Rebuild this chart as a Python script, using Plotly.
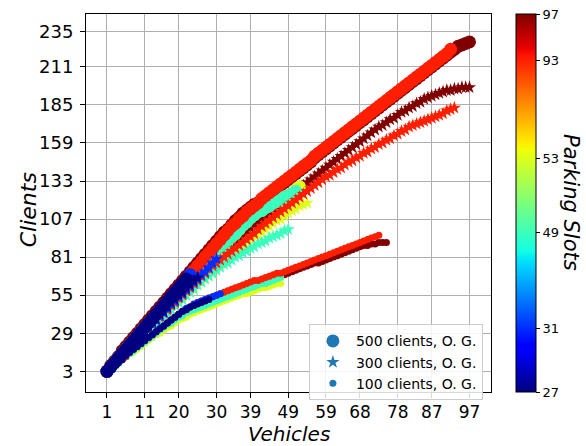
import numpy as np
import plotly.graph_objects as go

# Vehicle counts (x grid shared by every run)
VEHICLES = list(range(1, 98))

# Parking-slot levels and where each sits on the colour bar
SLOT_LEVELS = [27, 31, 49, 53, 93, 97]
SLOT_POSITIONS = [0.0, 0.169, 0.421, 0.619, 0.878, 1.0]

X_TICKS = [1, 11, 20, 30, 39, 49, 59, 68, 78, 87, 97]
Y_TICKS = [3, 29, 55, 81, 107, 133, 159, 185, 211, 235]

# ---- 500 clients, O. G. (served clients per vehicle count) ----
c500_s97 = [3, 7, 10, 13, 17, 20, 23, 26, 29, 32,
            35, 38, 41, 44, 47, 50, 53, 56, 59, 62,
            65, 68, 71, 74, 77, 80, 83, 86, 89, 92,
            95, 98, 100, 103, 106, 108, 111, 113, 115, 117,
            118, 120, 122, 124, 126, 128, 130, 132, 134, 136,
            138, 140, 142, 144, 146, 149, 151, 153, 155, 157,
            159, 161, 163, 165, 167, 169, 171, 173, 175, 177,
            179, 181, 183, 185, 187, 189, 191, 193, 195, 197,
            199, 201, 203, 205, 207, 209, 211, 213, 215, 217,
            219, 221, 223, 225, 226, 227, 228]
c500_s93 = [3, 6, 9, 12, 15, 18, 21, 24, 27, 30,
            33, 36, 39, 42, 45, 48, 51, 54, 57, 60,
            63, 66, 69, 72, 75, 78, 81, 84, 87, 90,
            93, 96, 99, 102, 104, 107, 109, 112, 114, 116,
            118, 121, 123, 125, 127, 129, 131, 133, 135, 137,
            139, 141, 143, 145, 147, 150, 152, 154, 156, 158,
            160, 162, 164, 166, 168, 170, 172, 174, 176, 178,
            180, 182, 184, 186, 188, 190, 192, 194, 196, 198,
            200, 202, 204, 206, 208, 210, 212, 214, 216, 218,
            220, 223]
c500_s53 = [3, 6, 9, 12, 15, 18, 21, 24, 27, 30,
            33, 35, 38, 41, 44, 46, 49, 52, 54, 57,
            60, 62, 65, 68, 70, 73, 76, 78, 81, 84,
            87, 89, 92, 95, 97, 100, 103, 105, 108, 110,
            112, 113, 115, 116, 118, 119, 120, 122, 123, 124,
            127, 129]
c500_s49 = [3, 6, 9, 12, 15, 18, 21, 24, 27, 30,
            33, 35, 38, 41, 44, 46, 49, 52, 54, 57,
            60, 62, 65, 68, 70, 73, 76, 78, 81, 84,
            87, 89, 92, 95, 97, 100, 103, 105, 108, 110,
            112, 113, 115, 116, 118, 119, 120, 122, 123, 124,
            126]
c500_s31 = [3, 6, 9, 12, 15, 18, 21, 24, 27, 30,
            33, 36, 39, 42, 45, 48, 51, 54, 57, 60,
            63, 66, 69]
c500_s27 = [3, 6, 9, 12, 15, 18, 21, 24, 27, 30,
            33, 36, 39, 42, 45, 48, 51, 54, 57, 60,
            63, 66]

# ---- 300 clients, O. G. ----
c300_s97 = [3, 6, 9, 12, 15, 17, 20, 23, 26, 28,
            31, 33, 36, 38, 41, 43, 46, 49, 51, 54,
            56, 59, 61, 64, 66, 69, 71, 74, 76, 79,
            81, 84, 86, 89, 91, 94, 96, 99, 101, 103,
            105, 107, 109, 112, 114, 116, 119, 121, 123, 125,
            127, 129, 130, 132, 134, 136, 138, 140, 142, 144,
            146, 148, 150, 152, 154, 156, 158, 160, 162, 164,
            166, 168, 170, 171, 173, 175, 176, 178, 180, 181,
            183, 184, 186, 187, 189, 190, 191, 192, 193, 194,
            195, 195, 196, 196, 197, 197, 197]
c300_s93 = [3, 6, 9, 12, 14, 17, 20, 23, 25, 28,
            30, 33, 35, 38, 40, 43, 45, 48, 50, 53,
            55, 58, 60, 63, 65, 68, 70, 73, 75, 77,
            79, 81, 83, 85, 87, 89, 91, 93, 95, 97,
            100, 102, 104, 106, 108, 110, 112, 114, 116, 118,
            120, 122, 124, 126, 128, 130, 132, 134, 136, 137,
            139, 141, 142, 144, 146, 147, 149, 150, 152, 153,
            155, 156, 158, 159, 161, 162, 164, 165, 167, 168,
            170, 171, 172, 173, 174, 175, 176, 177, 178, 179,
            181, 182, 183]
c300_s53 = [3, 6, 8, 11, 14, 16, 19, 21, 24, 26,
            29, 31, 34, 36, 39, 41, 43, 46, 48, 51,
            53, 55, 58, 60, 62, 65, 67, 69, 71, 74,
            76, 78, 80, 83, 85, 87, 89, 91, 93, 95,
            96, 98, 100, 102, 104, 106, 107, 109, 111, 113,
            114, 116, 117, 118]
c300_s49 = [3, 5, 8, 10, 13, 15, 18, 20, 23, 25,
            28, 30, 33, 35, 38, 40, 43, 45, 48, 50,
            52, 55, 57, 59, 62, 64, 66, 68, 70, 72,
            74, 76, 77, 79, 81, 82, 84, 85, 87, 88,
            90, 91, 92, 94, 95, 96, 97, 99, 100]
c300_s31 = [3, 6, 9, 12, 15, 17, 20, 23, 26, 28,
            31, 33, 36, 38, 41, 43, 46, 49, 51, 54,
            56, 59, 61, 64, 66, 69, 71, 74, 77, 80]
c300_s27 = [3, 6, 9, 12, 15, 18, 20, 23, 26, 29,
            31, 34, 37, 39, 42, 44, 47, 50, 52, 55,
            57, 60, 62, 65, 67]

# ---- 100 clients, O. G. ----
c100_s97 = [3, 5, 7, 9, 11, 13, 16, 18, 20, 22,
            24, 26, 28, 30, 32, 34, 36, 38, 40, 42,
            43, 45, 46, 48, 49, 50, 51, 52, 53, 54,
            55, 56, 57, 58, 59, 59, 60, 61, 62, 63,
            64, 64, 65, 66, 67, 68, 68, 69, 70, 71,
            72, 73, 74, 75, 76, 77, 77, 78, 79, 80,
            81, 82, 83, 84, 85, 86, 87, 88, 89, 89,
            90, 90, 91, 91, 91]
c100_s93 = [3, 5, 7, 9, 11, 13, 16, 18, 20, 22,
            24, 26, 28, 30, 32, 34, 36, 38, 40, 42,
            44, 45, 47, 48, 50, 51, 52, 53, 54, 55,
            56, 57, 58, 59, 60, 61, 62, 63, 64, 65,
            65, 66, 67, 68, 69, 70, 70, 71, 72, 73,
            74, 75, 76, 77, 78, 79, 80, 81, 82, 83,
            84, 85, 86, 87, 88, 89, 90, 91, 92, 93,
            94, 95, 96]
c100_s53 = [3, 5, 7, 9, 11, 13, 15, 16, 18, 20,
            22, 24, 26, 28, 29, 31, 33, 34, 36, 38,
            39, 40, 42, 43, 44, 45, 46, 47, 48, 49,
            50, 51, 52, 53, 54, 55, 56, 56, 57, 58,
            59, 60, 60, 61, 62, 63, 63]
c100_s49 = [3, 5, 7, 9, 11, 13, 15, 17, 19, 21,
            23, 25, 27, 29, 31, 33, 35, 36, 38, 40,
            41, 43, 44, 45, 46, 47, 48, 49, 50, 51,
            52, 53, 54, 55, 56, 57, 58, 59, 60, 61,
            62, 63, 63, 64, 65, 66, 67]
c100_s31 = [3, 5, 7, 9, 11, 14, 16, 18, 20, 22,
            24, 26, 28, 30, 32, 34, 36, 38, 40, 42,
            44, 46, 47, 49, 50, 51, 52, 53, 54, 55,
            56]
c100_s27 = [3, 5, 7, 9, 11, 14, 16, 18, 20, 22,
            24, 26, 28, 30, 32, 34, 36, 38, 40, 42,
            44, 45, 47, 48, 49, 50, 51, 52]

RUNS = {
    (500, 97): c500_s97, (500, 93): c500_s93, (500, 53): c500_s53,
    (500, 49): c500_s49, (500, 31): c500_s31, (500, 27): c500_s27,
    (300, 97): c300_s97, (300, 93): c300_s93, (300, 53): c300_s53,
    (300, 49): c300_s49, (300, 31): c300_s31, (300, 27): c300_s27,
    (100, 97): c100_s97, (100, 93): c100_s93, (100, 53): c100_s53,
    (100, 49): c100_s49, (100, 31): c100_s31, (100, 27): c100_s27,
}

MARKERS = {500: ("circle", 13), 300: ("star", 10), 100: ("circle", 7)}

# stacking order of the slot levels (later ones are drawn on top)
DRAW_ORDER = [97, 53, 49, 93, 31, 27]


def mpl_jet_scale():
    """The classic 'jet' map as a Plotly colorscale."""
    r_pts = ([0, 0.35, 0.66, 0.89, 1], [0, 0, 1, 1, 0.5])
    g_pts = ([0, 0.125, 0.375, 0.64, 0.91, 1], [0, 0, 1, 1, 0, 0])
    b_pts = ([0, 0.11, 0.34, 0.65, 1], [0.5, 1, 1, 0, 0])
    stops = sorted(set(r_pts[0] + g_pts[0] + b_pts[0]))
    scale = []
    for t in stops:
        r = np.interp(t, *r_pts)
        g = np.interp(t, *g_pts)
        b = np.interp(t, *b_pts)
        scale.append([t, f"rgb({round(r*255)},{round(g*255)},{round(b*255)})"])
    return scale


FONT = "DejaVu Sans"
fig = go.Figure()

for slots in DRAW_ORDER:
    level = SLOT_POSITIONS[SLOT_LEVELS.index(slots)]
    for group in [500, 300, 100]:
        clients = RUNS[(group, slots)]
        symbol, size = MARKERS[group]
        fig.add_trace(go.Scatter(
            x=VEHICLES[:len(clients)], y=clients, mode="markers",
            marker=dict(symbol=symbol, size=size, color=[level] * len(clients),
                        coloraxis="coloraxis", line=dict(width=0)),
            showlegend=False, hoverinfo="skip",
        ))

# legend entries
for group, label in [(500, "500 clients, O. G."), (300, "300 clients, O. G."),
                     (100, "100 clients, O. G.")]:
    symbol, size = MARKERS[group]
    fig.add_trace(go.Scatter(
        x=[None], y=[None], mode="markers", name=label,
        marker=dict(symbol=symbol, size=size, color="#1f77b4"),
    ))

axis_common = dict(
    showgrid=True, gridcolor="#b0b0b0", gridwidth=1,
    showline=True, linecolor="black", linewidth=1, mirror=True,
    ticks="outside", ticklen=5, tickcolor="black",
    zeroline=False,
)

fig.update_layout(
    width=586, height=446,
    margin=dict(l=86, r=95, t=14, b=54),
    paper_bgcolor="white", plot_bgcolor="white",
    font=dict(family=FONT, color="black"),
    xaxis=dict(axis_common, range=[-4.56, 102.7], tickvals=X_TICKS,
               ticktext=[str(v) for v in X_TICKS],
               tickfont=dict(family=FONT, size=17, color="black")),
    yaxis=dict(axis_common, range=[-11.15, 247.1], tickvals=Y_TICKS,
               ticktext=[str(v) for v in Y_TICKS], ticklabelstandoff=3,
               tickfont=dict(family=FONT, size=18, color="black")),
    coloraxis=dict(
        colorscale=mpl_jet_scale(), cmin=0, cmax=1,
        colorbar=dict(
            x=1.037, xanchor="left", xpad=10,
            y=0.5, yanchor="middle", len=1, lenmode="fraction", ypad=0,
            thickness=20, outlinecolor="black", outlinewidth=1,
            tickvals=SLOT_POSITIONS,
            ticktext=[str(s) for s in SLOT_LEVELS],
            ticks="outside", ticklen=4, tickcolor="black",
            tickfont=dict(family=FONT, size=13, color="black"),
        ),
    ),
    legend=dict(
        x=0.98, xanchor="right", y=-0.022, yanchor="bottom",
        bgcolor="rgba(255,255,255,0.85)", bordercolor="#cccccc", borderwidth=1,
        font=dict(family=FONT, size=14, color="black"), itemwidth=36,
    ),
    annotations=[
        dict(text="Vehicles", x=0.5, y=-0.111, xref="paper", yref="paper",
             xanchor="center", yanchor="middle", showarrow=False,
             font=dict(family=FONT, size=20, style="italic", color="black")),
        dict(text="Clients", x=-0.143, y=0.481, xref="paper", yref="paper",
             xanchor="center", yanchor="middle", textangle=-90, showarrow=False,
             font=dict(family=FONT, size=22, style="italic", color="black")),
        dict(text="Parking Slots", x=1.1975, y=0.5, xref="paper", yref="paper",
             xanchor="center", yanchor="middle", textangle=90, showarrow=False,
             font=dict(family=FONT, size=21, style="italic", color="black")),
    ],
)

fig.write_html("out.html")
